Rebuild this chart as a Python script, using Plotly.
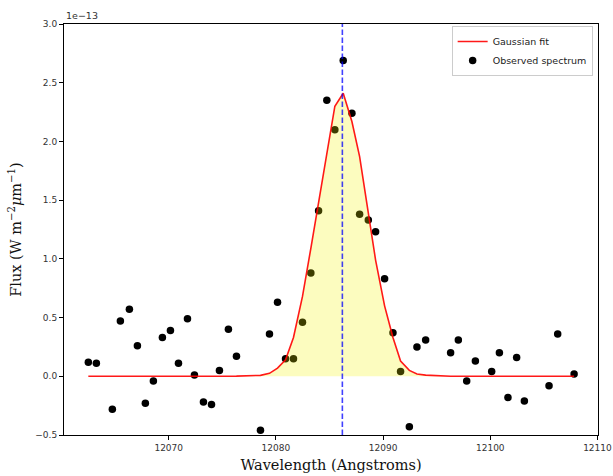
import plotly.graph_objects as go

# Observed spectrum (wavelength in Angstroms, flux in units of 1e-13 W m^-2 um^-1)
wavelength = [12062.50, 12063.25, 12064.74, 12065.49, 12066.33, 12067.08, 12067.82, 12068.57,
              12069.41, 12070.16, 12070.91, 12071.75, 12072.40, 12073.24, 12073.99, 12074.73,
              12075.57, 12076.32, 12078.56, 12079.40, 12080.15, 12080.90, 12081.64, 12082.48,
              12083.26, 12083.98, 12084.75, 12085.50, 12086.28, 12087.09, 12087.81, 12088.62,
              12089.30, 12090.14, 12090.92, 12091.63, 12092.45, 12093.16, 12093.97, 12096.30,
              12097.02, 12097.80, 12098.61, 12100.13, 12100.85, 12101.65, 12102.46, 12103.18,
              12105.48, 12106.29, 12107.82]
flux = [0.12, 0.11, -0.28, 0.47, 0.57, 0.26, -0.23, -0.04,
        0.33, 0.39, 0.11, 0.49, 0.01, -0.22, -0.24, 0.05,
        0.40, 0.17, -0.46, 0.36, 0.63, 0.15, 0.15, 0.46,
        0.88, 1.41, 2.35, 2.10, 2.69, 2.24, 1.38, 1.33,
        1.23, 0.83, 0.37, 0.04, -0.43, 0.25, 0.31, 0.20,
        0.31, -0.04, 0.13, 0.04, 0.20, -0.18, 0.16, -0.21,
        -0.08, 0.36, 0.02]
# Gaussian fit evaluated at the observed wavelengths
fit = [0.0, 0.0, 0.0, 0.0, 0.0, 0.0, 0.0, 0.0,
       0.0, 0.0, 0.0, 0.0, 0.0, 0.0, 0.0, 0.0,
       0.0, 0.001, 0.008, 0.025, 0.07, 0.14, 0.33, 0.68,
       1.09, 1.49, 1.91, 2.30, 2.41, 2.17, 1.87, 1.39,
       0.99, 0.60, 0.33, 0.13, 0.05, 0.02, 0.01, 0.0,
       0.0, 0.0, 0.0, 0.0, 0.0, 0.0, 0.0, 0.0,
       0.0, 0.0, 0.0]
line_center = 12086.2
x_ticks = [12070, 12080, 12090, 12100, 12110]
y_ticks = [-0.5, 0.0, 0.5, 1.0, 1.5, 2.0, 2.5, 3.0]
x_range = [12060.23, 12110.05]
y_range = [-0.5, 3.0]

fig = go.Figure()

fig.add_trace(go.Scatter(
    x=wavelength, y=flux, mode="markers", name="Observed spectrum",
    marker=dict(color="black", size=7.5), legendrank=2))

fig.add_trace(go.Scatter(
    x=wavelength, y=fit, mode="none", fill="tozeroy",
    fillcolor="rgba(245,245,0,0.25)", showlegend=False, hoverinfo="skip"))

fig.add_trace(go.Scatter(
    x=wavelength, y=fit, mode="lines", name="Gaussian fit",
    line=dict(color="rgba(255,0,0,0.9)", width=1.6), legendrank=1))

fig.add_shape(type="line", xref="x", yref="paper", x0=line_center, x1=line_center,
              y0=0, y1=1, layer="above",
              line=dict(color="rgba(0,0,255,0.75)", width=1.6, dash="5.5px,2.5px"))

fig.add_annotation(text="1e\u221213", xref="paper", yref="paper", x=0, y=1,
                   xanchor="left", yanchor="bottom", showarrow=False,
                   font=dict(family="DejaVu Sans", size=9.5, color="#333"), yshift=1)

axis_common = dict(showgrid=False, zeroline=False, showline=True, linecolor="black",
                   linewidth=1, mirror=True, ticks="outside", ticklen=4, automargin=False,
                   ticklabeloverflow="allow",
                   tickcolor="black", tickfont=dict(family="DejaVu Sans", size=9, color="#333"))

fig.update_xaxes(range=x_range, tickvals=x_ticks, tickformat="d",
                 title=dict(text="Wavelength (Angstroms)", standoff=8,
                            font=dict(family="DejaVu Serif", size=14.5, color="#111")),
                 **axis_common)
fig.update_yaxes(range=y_range, tickvals=y_ticks, tickformat=".1f",
                 title=dict(text="Flux (W m<sup>\u22122</sup><i>\u03bc</i>m<sup>\u22121</sup>)",
                            standoff=10,
                            font=dict(family="DejaVu Serif", size=14.5, color="#111")),
                 **axis_common)

fig.update_layout(
    width=613, height=476,
    margin=dict(l=64, r=15, t=24, b=41, autoexpand=False),
    plot_bgcolor="white", paper_bgcolor="white",
    legend=dict(x=0.99, y=0.995, xanchor="right", yanchor="top",
                bgcolor="rgba(255,255,255,0.9)", bordercolor="#ccc", borderwidth=1,
                font=dict(family="DejaVu Sans", size=9.5, color="#222"),
                tracegroupgap=0, itemwidth=30),
    showlegend=True,
)

fig.write_html("out.html", config={"displayModeBar": False},
               post_script="document.body.style.margin='0';document.body.style.overflow='hidden';")
